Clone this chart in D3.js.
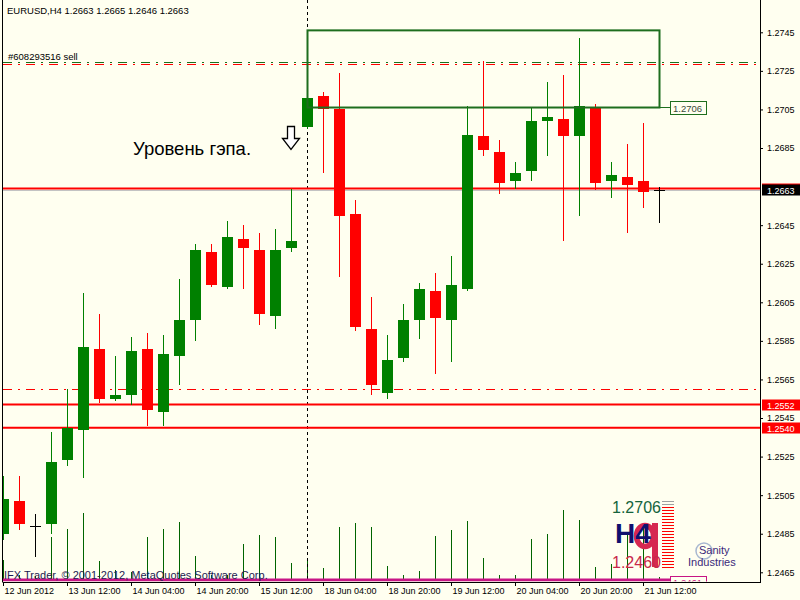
<!DOCTYPE html>
<html><head><meta charset="utf-8">
<script src="https://cdn.jsdelivr.net/npm/d3@7"></script>
<style>html,body{margin:0;padding:0;background:#fffff0;} svg{display:block;font-family:"Liberation Sans",Arial,sans-serif}</style>
</head><body><svg id="c" width="800" height="600"></svg>
<script>
// ---------- DATA ----------
const barTimes = ["12 Jun 20:00","13 Jun 00:00","13 Jun 04:00","13 Jun 08:00","13 Jun 12:00","13 Jun 16:00","13 Jun 20:00",
 "14 Jun 00:00","14 Jun 04:00","14 Jun 08:00","14 Jun 12:00","14 Jun 16:00","14 Jun 20:00",
 "15 Jun 00:00","15 Jun 04:00","15 Jun 08:00","15 Jun 12:00","15 Jun 16:00","15 Jun 20:00",
 "18 Jun 00:00","18 Jun 04:00","18 Jun 08:00","18 Jun 12:00","18 Jun 16:00","18 Jun 20:00",
 "19 Jun 00:00","19 Jun 04:00","19 Jun 08:00","19 Jun 12:00","19 Jun 16:00","19 Jun 20:00",
 "20 Jun 00:00","20 Jun 04:00","20 Jun 08:00","20 Jun 12:00","20 Jun 16:00","20 Jun 20:00",
 "21 Jun 00:00","21 Jun 04:00","21 Jun 08:00","21 Jun 12:00","21 Jun 16:00"];
const opens  = [1.2485,1.2502,1.2489,1.2490,1.2523,1.2539,1.2581,1.2555,1.2557,1.2581,1.2548,1.2577,1.2596,1.2631,1.2613,1.2638,1.2632,1.2598,1.2633,1.2696,1.2712,1.2705,1.2651,1.2591,1.2558,1.2576,1.2596,1.2611,1.2596,1.2612,1.2691,1.2683,1.2668,1.2673,1.2699,1.2700,1.2691,1.2706,1.2668,1.2670,1.2668,1.2663];
const highs  = [1.2515,1.2515,1.2495,1.2538,1.2560,1.2610,1.2599,1.2577,1.2587,1.2589,1.2588,1.2617,1.2635,1.2635,1.2647,1.2645,1.2641,1.2643,1.2664,1.2718,1.2714,1.2724,1.2658,1.2608,1.2588,1.2604,1.2615,1.2620,1.2629,1.2707,1.2730,1.2689,1.2678,1.2706,1.2719,1.2723,1.2742,1.2708,1.2678,1.2687,1.2698,1.2665];
const lows   = [1.2482,1.2487,1.2473,1.2485,1.2520,1.2514,1.2553,1.2554,1.2552,1.2541,1.2541,1.2562,1.2585,1.2613,1.2612,1.2612,1.2593,1.2591,1.2631,1.2695,1.2672,1.2618,1.2590,1.2557,1.2555,1.2574,1.2586,1.2568,1.2574,1.2611,1.2681,1.2661,1.2664,1.2668,1.2681,1.2637,1.2650,1.2663,1.2659,1.2641,1.2654,1.2646];
const closes = [1.2503,1.2490,1.2489,1.2522,1.2540,1.2582,1.2555,1.2557,1.2580,1.2549,1.2578,1.2596,1.2632,1.2614,1.2639,1.2633,1.2599,1.2632,1.2637,1.2711,1.2705,1.2650,1.2592,1.2562,1.2575,1.2596,1.2612,1.2597,1.2614,1.2692,1.2684,1.2667,1.2672,1.2699,1.2701,1.2691,1.2707,1.2667,1.2671,1.2666,1.2662,1.2663];
const volumes = [2100,600,500,4400,5200,6800,2000,1100,900,4400,5200,5900,2500,600,600,3700,4600,4400,1800,2100,1300,5400,5800,5400,1500,600,1000,4500,5100,6000,2300,600,600,4200,4700,7100,6100,1400,1700,4600,5300,400];
const timeTickIndex  = [0,4,8,12,16,20,24,28,32,36,40];
const timeTickLabels = ["12 Jun 2012","13 Jun 12:00","14 Jun 04:00","14 Jun 20:00","15 Jun 12:00","18 Jun 04:00","18 Jun 20:00","19 Jun 12:00","20 Jun 04:00","20 Jun 20:00","21 Jun 12:00"];
const priceTicks = [1.2745,1.2725,1.2705,1.2685,1.2645,1.2625,1.2605,1.2585,1.2565,1.2545,1.2525,1.2505,1.2485,1.2465];
const redLevels = [1.2664,1.2552,1.2540];
const bidPrice = 1.2663;
const orderPrices = [1.27295,1.27285];
const dashDotLevels = [1.2560];
const bottomLevel = 1.2461;
const zoneBars = [19,41];
const zonePrices = [1.2746,1.2706];
const separatorBar = 19;
const headerText = "EURUSD,H4  1.2663 1.2665 1.2646 1.2663";
const orderText = "#608293516 sell";
const noteText = "Уровень гэпа.";
const copyrightText = "IFX Trader, © 2001-2012, MetaQuotes Software Corp.";
const logoPrices = ["1.2706","1.2460"];

// ---------- LAYOUT ----------
const L = 2.5, R = 760, B = 582;
const svg = d3.select("#c");
svg.append("rect").attr("width",800).attr("height",600).attr("fill","#fffff0");
const x = d3.scaleLinear().domain([0,41]).range([3.5,659.5]);
const y = d3.scaleLinear().domain([1.2465,1.2745]).range([572.3,32.3]);
const vy = d3.scaleLinear().domain([0,10000]).range([581,481]);
const fmt = d3.format(".4f");

svg.append("defs").append("clipPath").attr("id","plot").append("rect")
  .attr("x",3).attr("y",0).attr("width",R-3).attr("height",B-0.5);
const g = svg.append("g").attr("clip-path","url(#plot)");

// volumes
g.selectAll("line.vol").data(volumes).join("line").attr("class","vol")
  .attr("x1",(d,i)=>Math.floor(x(i))+0.5).attr("x2",(d,i)=>Math.floor(x(i))+0.5)
  .attr("y1",d=>vy(d)).attr("y2",581).attr("stroke","#006400").attr("stroke-width",1);

// order lines
const orderColors = ["#1a6e1a","#ff0000"];
orderPrices.forEach((p,k)=>{
  g.append("line").attr("x1",3).attr("x2",R).attr("y1",Math.round(y(p))+0.5).attr("y2",Math.round(y(p))+0.5)
   .attr("stroke",orderColors[k]).attr("stroke-width",1.2).attr("stroke-dasharray","9,6,2,6");
});
dashDotLevels.forEach(p=>{
  g.append("line").attr("x1",3).attr("x2",R).attr("y1",Math.round(y(p))+0.5).attr("y2",Math.round(y(p))+0.5)
   .attr("stroke","#ff0000").attr("stroke-width",1).attr("stroke-dasharray","9,6,2,6");
});

// separator
g.append("line").attr("x1",Math.floor(x(separatorBar))+0.5).attr("x2",Math.floor(x(separatorBar))+0.5)
 .attr("y1",0).attr("y2",B).attr("stroke","#000").attr("stroke-dasharray","3,3");

// bid line & red levels
g.append("line").attr("x1",3).attr("x2",R).attr("y1",y(bidPrice)).attr("y2",y(bidPrice)).attr("stroke","#c0c0c0").attr("stroke-width",1);
redLevels.forEach(p=>{
  g.append("line").attr("x1",3).attr("x2",R).attr("y1",y(p)).attr("y2",y(p)).attr("stroke","#ff0000").attr("stroke-width",2);
});

// candles
const col = i => closes[i]>opens[i] ? "#008000" : (closes[i]<opens[i] ? "#ff0000" : "#000000");
const idx = d3.range(opens.length);
g.selectAll("line.wick").data(idx).join("line").attr("class","wick")
  .attr("x1",i=>Math.floor(x(i))+0.5).attr("x2",i=>Math.floor(x(i))+0.5)
  .attr("y1",i=>Math.round(y(highs[i]))).attr("y2",i=>Math.round(y(lows[i])))
  .attr("stroke",col).attr("stroke-width",1);
g.selectAll("rect.body").data(idx).join("rect").attr("class","body")
  .attr("x",i=>Math.floor(x(i))-5).attr("width",11)
  .attr("y",i=>Math.round(y(Math.max(opens[i],closes[i]))))
  .attr("height",i=>Math.max(1,Math.round(y(Math.min(opens[i],closes[i])))-Math.round(y(Math.max(opens[i],closes[i])))))
  .attr("fill",col);

// zone rectangle
const zx0 = Math.floor(x(zoneBars[0]))+0.5, zx1 = Math.floor(x(zoneBars[1]))+0.5;
g.append("rect").attr("x",zx0).attr("y",y(zonePrices[0])).attr("width",zx1-zx0).attr("height",y(zonePrices[1])-y(zonePrices[0]))
 .attr("fill","none").attr("stroke","#1e6e1e").attr("stroke-width",2);
g.append("line").attr("x1",zx1).attr("x2",670).attr("y1",y(zonePrices[1])).attr("y2",y(zonePrices[1])).attr("stroke","#1e6e1e").attr("stroke-width",1);
g.append("rect").attr("x",670.5).attr("y",Math.round(y(zonePrices[1]))-6.5).attr("width",36).attr("height",13)
 .attr("fill","#fffff0").attr("stroke","#1e6e1e").attr("stroke-width",1);
g.append("text").attr("x",673).attr("y",Math.round(y(zonePrices[1]))+4).attr("font-size",9.5).attr("fill","#3a4a3a").text(fmt(zonePrices[1]));

// bottom magenta level
g.append("line").attr("x1",3).attr("x2",670).attr("y1",y(bottomLevel)).attr("y2",y(bottomLevel)).attr("stroke","#c71585").attr("stroke-width",3);
g.append("rect").attr("x",670.5).attr("y",576.5).attr("width",36).attr("height",13).attr("fill","#fffff0").attr("stroke","#c71585");
g.append("text").attr("x",673).attr("y",586).attr("font-size",9.5).attr("fill","#c71585").text(fmt(bottomLevel));

// arrow & note
g.append("path").attr("d","M287.5,126.5 H294.5 V138.5 H299.5 L291,149.5 L282.5,138.5 H287.5 Z")
 .attr("fill","#fff").attr("stroke","#000").attr("stroke-width",1.3);
g.append("text").attr("x",133).attr("y",155).attr("font-size",18.5).attr("fill","#000").text(noteText);

// header texts
svg.append("text").attr("x",7).attr("y",13.5).attr("font-size",9.5).attr("fill","#000").text(headerText);
svg.append("text").attr("x",8).attr("y",59.5).attr("font-size",9.5).attr("fill","#000").text(orderText);
g.append("text").attr("x",4).attr("y",578.5).attr("font-size",11).attr("fill","#1c1c50").text(copyrightText);

// logo
const lg = g.append("g");
d3.range(0,23).forEach(k=>{
  lg.append("line").attr("x1",662).attr("x2",674).attr("y1",501.5+3*k).attr("y2",501.5+3*k)
    .attr("stroke",k<2?"#a0a0a0":"#ff0000").attr("stroke-width",1);
});
lg.append("text").attr("x",612).attr("y",513).attr("font-size",16).attr("fill","#14643c").text(logoPrices[0]);
lg.append("ellipse").attr("cx",645).attr("cy",536).attr("rx",8.5).attr("ry",10.5).attr("fill","none").attr("stroke","#d62850").attr("stroke-width",5.5);
lg.append("rect").attr("x",652).attr("y",523).attr("width",6).attr("height",44).attr("fill","#d62850");
lg.append("text").attr("x",615).attr("y",543).attr("font-size",28).attr("font-weight","bold").attr("fill","#10106e").text("H4");
lg.append("text").attr("x",612).attr("y",568).attr("font-size",16).attr("fill","#c8284a").text(logoPrices[1]);
lg.append("circle").attr("cx",704).attr("cy",551).attr("r",8).attr("fill","none").attr("stroke","#a8b8d0").attr("stroke-width",1.5);
lg.append("text").attr("x",699).attr("y",554).attr("font-size",11).attr("fill","#3a2a7a").text("Sanity");
lg.append("text").attr("x",688).attr("y",566).attr("font-size",11).attr("fill","#3a2a7a").text("Industries");

// frame
svg.append("line").attr("x1",L).attr("x2",L).attr("y1",0).attr("y2",B).attr("stroke","#000");

// price axis
const ay = svg.append("g").attr("transform",`translate(${R},0)`)
  .call(d3.axisRight(y).tickValues(priceTicks).tickFormat(fmt).tickSize(3).tickPadding(4));
ay.select(".domain").remove();
ay.selectAll("text").attr("font-size",9).attr("font-family","Liberation Sans, Arial").attr("fill","#000");
ay.selectAll("line").attr("stroke","#000");
svg.append("line").attr("x1",R+0.5).attr("x2",R+0.5).attr("y1",0).attr("y2",B).attr("stroke","#000");

// time axis
const ax = svg.append("g").attr("transform",`translate(0,${B})`)
  .call(d3.axisBottom(x).tickValues(timeTickIndex).tickFormat((d,k)=>timeTickLabels[k]).tickSize(4).tickPadding(2));
ax.select(".domain").remove();
ax.selectAll("text").attr("font-size",9).attr("font-family","Liberation Sans, Arial").attr("fill","#000").attr("text-anchor","start").attr("dx",1);
ax.selectAll("line").attr("stroke","#000");
ax.selectAll(".tick").attr("transform",d=>`translate(${Math.floor(x(d))+0.5},0)`);
svg.append("line").attr("x1",L).attr("x2",R+1).attr("y1",B+0.5).attr("y2",B+0.5).attr("stroke","#000");

// price labels (the 1.2664 label is hidden behind the bid label, as in the reference)
function priceLabel(p, bg, showText){
  const cy = Math.round(y(p));
  svg.append("rect").attr("x",762).attr("y",cy-5.5).attr("width",38).attr("height",11).attr("fill",bg);
  if (showText) svg.append("text").attr("x",767).attr("y",cy+3.5).attr("font-size",9).attr("fill","#fff").text(fmt(p));
}
redLevels.forEach(p=>priceLabel(p,"#ff0000", Math.abs(p-bidPrice)>0.0005));
priceLabel(bidPrice,"#000000", true);
</script></body></html>
